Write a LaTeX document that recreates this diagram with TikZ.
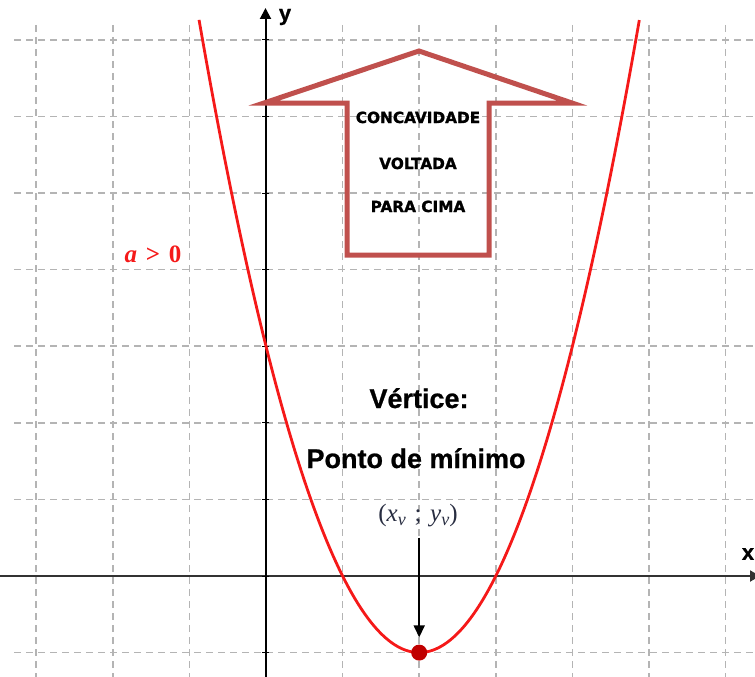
\documentclass[tikz,border=0pt]{standalone}
\usepackage{fontspec}
\setmainfont{Liberation Sans}
\newfontfamily\boxfont{DejaVu Sans Bold}[FakeBold=1.4]
\newfontfamily\bigfont{Liberation Sans Bold}[FakeBold=0.8]
\newfontfamily\lserif{Liberation Serif}
\newfontfamily\lserifbi{Liberation Serif Bold Italic}
\newfontfamily\lserifb{Liberation Serif Bold}
\usetikzlibrary{arrows.meta}
\definecolor{arrowred}{RGB}{192,80,77}
\definecolor{curvered}{RGB}{245,25,25}
\definecolor{dotred}{RGB}{192,0,0}
\definecolor{gridgray}{RGB}{180,180,180}
\definecolor{axisgray}{RGB}{50,50,50}
\definecolor{vtxtext}{RGB}{40,45,65}
\begin{document}
\begin{tikzpicture}[x=1pt,y=-1pt,
  gridline/.style={gridgray,line width=1.5pt,dash pattern=on 7pt off 5pt},
  axisline/.style={axisgray,line width=2pt},
  bigarrow/.style={arrowred,line width=5pt,miter limit=20},
  boxtext/.style={font=\boxfont\fontsize{15.3}{18}\selectfont,anchor=base,inner sep=0pt},
  bigtext/.style={font=\bigfont\fontsize{27}{32}\selectfont,anchor=base,inner sep=0pt},
  axislabel/.style={font=\bigfont\fontsize{22}{26}\selectfont,inner sep=0pt},
  seriflabel/.style={font=\lserif\fontsize{25}{29}\selectfont,inner sep=0pt}]
\useasboundingbox (0,0) rectangle (755,677);
% grid
\foreach \k in {-3,...,6}
  \draw[gridline] ({266+76.6*\k},25) -- ({266+76.6*\k},677);
\foreach \k in {-1,...,7}
  \draw[gridline] (14,{576-76.6*\k}) -- (755,{576-76.6*\k});
% axes
\coordinate (xa0) at (0,576);
\coordinate (xa1) at (760,576);
\coordinate (ya0) at (265.5,677);
\coordinate (ya1) at (265.5,8);
\draw[axisline,-{Triangle[length=10pt,width=11pt]}] (xa0) -- (xa1);
\draw[axisline,black,-{Triangle[length=11pt,width=11pt]}] (ya0) -- (ya1);
\foreach \k in {-1,...,7}
  \draw[black,line width=1pt] (262,{576-76.6*\k}) -- (269,{576-76.6*\k});
\node[axislabel] (ylab) at (285,17) {y};
\node[axislabel] (xlab) at (748,554) {x};
% parabola
\draw[curvered,line width=2.8pt] plot[domain=-0.874:4.874,samples=150,smooth]
  ({266+76.6*\x},{576-76.6*((\x-2)^2-1)});
% big arrow
\draw[bigarrow] (264,103) -- (419,51) -- (572,103) -- (489,103) -- (489,255)
  -- (347,255) -- (347,103) -- cycle;
\node[boxtext] (t1) at (418,123) {CONCAVIDADE};
\node[boxtext] (t2) at (418,169) {VOLTADA};
\node[boxtext] (t3) at (418,212) {PARA CIMA};
% labels
\node[seriflabel,color=curvered,anchor=base] (alab) at (153,262) {{\lserifbi a}\hspace{0.35em}{\lserifb\textgreater}\hspace{0.35em}{\lserifb 0}};
\node[bigtext] (vert) at (419,408) {Vértice:};
\node[bigtext] (ponto) at (416,468) {Ponto de mínimo};
\node[seriflabel,color=vtxtext] (xv) at (418,516) {(\textit{x}\raisebox{-0.35ex}{\fontsize{18}{21}\selectfont\textit{v}}\hspace{0.35em};\hspace{0.35em}\textit{y}\raisebox{-0.35ex}{\fontsize{18}{21}\selectfont\textit{v}})};
\node[circle,fill=dotred,minimum size=16pt,inner sep=0pt] (vtx) at (419.2,652.6) {};
\draw[black,line width=1.6pt,-{Triangle[length=12pt,width=11pt]},shorten <=10pt,shorten >=7pt] (xv.south -| vtx) -- (vtx.north);
\end{tikzpicture}
\end{document}
